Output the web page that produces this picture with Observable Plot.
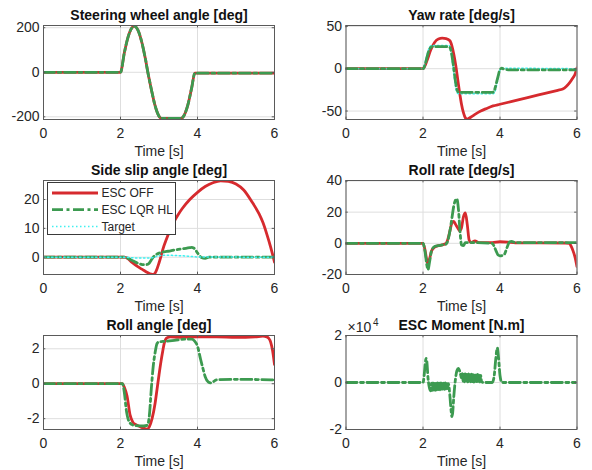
<!DOCTYPE html>
<html>
<head>
<meta charset="utf-8">
<script src="https://cdn.jsdelivr.net/npm/d3@7"></script>
<script src="https://cdn.jsdelivr.net/npm/@observablehq/plot@0.6"></script>
<style>
  html, body { margin: 0; padding: 0; background: #fff; }
  #fig { position: relative; width: 592px; height: 470px; background: #fff; font-family: "Liberation Sans", Arial, sans-serif; }
  #fig > .cell { position: absolute; }
</style>
</head>
<body>
<div id="fig"></div>
<script>
// ---------- Data ----------
const xTicks = [0, 2, 4, 6];

// Steering wheel angle [deg]
const steerT   = [0, 2.0, 2.1, 2.2, 2.3, 2.36, 2.45, 2.55, 2.65, 2.71, 2.8, 2.9, 3.0, 3.07, 3.57, 3.65, 3.75, 3.85, 3.93, 6];
const steerOff = [0, 0, 88, 160, 200, 207, 190, 137, 57, 0, -76, -151, -197, -207, -207, -194, -146, -69, -4, -4];
const steerLqr = [0, 0, 88, 160, 200, 207, 190, 137, 57, 0, -76, -151, -197, -207, -207, -194, -146, -69, -4, -4];
const steerTicks = [-200, 0, 200];

// Yaw rate [deg/s]
const yawOffT = [0, 2.0, 2.1, 2.2, 2.3, 2.4, 2.5, 2.6, 2.7, 2.75, 2.8, 2.85, 2.9, 2.95, 3.0, 3.05, 3.1, 3.15, 3.25, 3.35, 3.5, 3.65, 3.82, 4.0, 4.5, 5.0, 5.5, 5.63, 5.72, 5.81, 5.9, 5.94, 6.0];
const yawOff  = [0, 0, 9, 22, 31, 35, 36, 35.5, 33, 27, 17, 4, -12, -28, -42, -52, -58, -59.5, -57, -54, -50, -47, -44, -42, -36.5, -31, -25.5, -24, -21, -16.5, -10.5, -7.5, 1];
const yawLqrT = [0, 2.0, 2.05, 2.1, 2.15, 2.2, 2.25, 2.65, 2.7, 2.75, 2.8, 2.85, 2.9, 2.95, 3.8, 3.85, 3.9, 3.95, 4.0, 4.05, 4.1, 4.3, 6];
const yawLqr  = [0, 0, 4, 13, 21, 25, 26, 26, 25, 16, 0, -17, -27, -28, -28, -26, -18, -9, -1, 0.5, -0.5, -1.5, -1.5];
const yawTgtT = [0, 2.0, 2.04, 2.09, 2.14, 2.19, 2.24, 2.68, 2.73, 2.78, 2.83, 2.88, 2.93, 3.82, 3.87, 3.92, 3.97, 4.01, 4.06, 6];
const yawTgt  = [0, 0, 5, 14, 22, 26.5, 27.5, 27.5, 18, 1, -17, -28, -29.5, -29.5, -27, -18, -8, 0, 0.5, 0];
const yawTicks = [-50, 0, 50];

// Side slip angle [deg]
const slipOffT = [0, 2.1, 2.2, 2.3, 2.4, 2.5, 2.6, 2.7, 2.8, 2.85, 2.9, 2.95, 3.0, 3.05, 3.1, 3.2, 3.3, 3.4, 3.5, 3.6, 3.8, 4.0, 4.2, 4.4, 4.6, 4.8, 5.0, 5.2, 5.4, 5.6, 5.7, 5.8, 5.9, 6.0];
const slipOff  = [0, 0, -0.6, -1.8, -2.8, -3.7, -4.5, -5.3, -5.9, -6.0, -5.5, -4.0, -2.0, 0.2, 2.7, 6.5, 9.8, 12.5, 14.8, 16.8, 20, 22.5, 24.5, 25.8, 26.5, 26.3, 25.4, 23.3, 19.5, 15, 12, 8, 3.5, -1.7];
const slipLqrT = [0, 2.1, 2.2, 2.3, 2.4, 2.5, 2.6, 2.7, 2.75, 2.8, 2.85, 2.9, 2.95, 3.0, 3.1, 3.2, 3.3, 3.4, 3.5, 3.6, 3.7, 3.8, 3.85, 3.9, 3.95, 4.0, 4.05, 4.1, 4.2, 4.3, 6];
const slipLqr  = [0, 0, -0.4, -1.1, -1.8, -2.3, -2.6, -2.5, -2.0, -1.0, 0.0, 0.7, 1.1, 1.4, 1.8, 2.0, 2.2, 2.5, 2.7, 2.9, 3.1, 3.3, 3.4, 3.2, 2.5, 1.5, 0.6, -0.1, -0.4, 0, 0];
const slipTgtT = [0, 2.1, 2.3, 2.5, 2.7, 2.9, 3.0, 3.2, 3.4, 3.6, 3.8, 4.0, 6];
const slipTgt  = [0, 0, -0.2, -0.3, -0.3, 0.1, 0.5, 0.7, 0.6, 0.5, 0.3, 0.1, 0];
const slipTicks = [0, 10, 20];

// Roll rate [deg/s]
const rrOffT = [0, 2.0, 2.05, 2.1, 2.13, 2.17, 2.22, 2.3, 2.4, 2.5, 2.6, 2.65, 2.7, 2.75, 2.8, 2.85, 2.9, 2.95, 3.0, 3.05, 3.1, 3.15, 3.2, 3.25, 3.35, 3.45, 3.8, 4.0, 4.2, 4.4, 5.7, 5.8, 5.85, 5.9, 5.95, 6.0];
const rrOff  = [0, 0, -4, -11, -13, -10, -5, -2.5, -1.5, -1, 0, 3, 8, 13, 14, 12, 10, 8, 10, 17, 19.5, 12, 2, 0.5, 1.5, 0.5, 0.5, 1, 0.8, 0.3, 0.2, 0, -2, -5, -9, -15];
const rrLqrT = [0, 2.0, 2.05, 2.1, 2.13, 2.17, 2.22, 2.3, 2.4, 2.5, 2.6, 2.65, 2.7, 2.75, 2.8, 2.85, 2.88, 2.92, 2.96, 3.0, 3.05, 3.1, 3.2, 3.8, 3.85, 3.9, 3.95, 4.0, 4.1, 4.15, 4.2, 4.25, 4.3, 4.4, 6];
const rrLqr  = [0, 0, -5, -14, -17, -12, -5, -2, -1.5, -1, -0.5, 2, 8, 16, 24, 28, 28.5, 22, 8, -1, -1.5, 0.5, 0.5, 0, -2, -5, -7.5, -8, -7.5, -5, -1.5, 1, 1.2, 0.5, 0.5];
const rrTicks = [-20, 0, 20, 40];

// Roll angle [deg]
const raOffT = [0, 2.05, 2.1, 2.17, 2.25, 2.32, 2.4, 2.5, 2.6, 2.69, 2.75, 2.82, 2.9, 2.95, 3.0, 3.05, 3.1, 3.14, 3.2, 3.3, 3.5, 4.0, 4.5, 5.0, 5.5, 5.7, 5.8, 5.85, 5.9, 5.95, 6.0];
const raOff  = [0, 0, -0.2, -0.7, -1.8, -2.2, -2.35, -2.45, -2.55, -2.6, -2.45, -2.0, -1.1, -0.3, 0.5, 1.25, 1.9, 2.35, 2.62, 2.68, 2.65, 2.68, 2.68, 2.65, 2.68, 2.72, 2.68, 2.6, 2.38, 1.9, 1.1];
const raLqrT = [0, 2.05, 2.1, 2.15, 2.21, 2.3, 2.4, 2.6, 2.7, 2.75, 2.8, 2.85, 2.9, 2.95, 3.0, 3.1, 3.4, 3.7, 3.85, 3.92, 4.0, 4.08, 4.15, 4.2, 4.28, 4.35, 4.5, 5.0, 6];
const raLqr  = [0, 0, -0.5, -1.5, -2.1, -2.34, -2.4, -2.42, -2.38, -1.8, -0.3, 1.0, 1.8, 2.3, 2.4, 2.42, 2.48, 2.55, 2.55, 2.45, 2.15, 1.4, 0.8, 0.4, 0.1, 0.05, 0.22, 0.25, 0.22];
const raTicks = [-2, 0, 2];

// ESC Moment [N.m]
const mLqrT = [0, 2.0, 2.03, 2.06, 2.08, 2.1, 2.13, 2.17, 2.2,
  2.22, 2.24, 2.26, 2.28, 2.30, 2.32, 2.34, 2.36, 2.38, 2.40, 2.42, 2.44, 2.46, 2.48, 2.50, 2.52, 2.54, 2.56, 2.58, 2.60, 2.62, 2.64, 2.66,
  2.7, 2.73, 2.75, 2.77, 2.8, 2.84, 2.88, 2.92, 2.96, 3.0,
  3.02, 3.04, 3.06, 3.08, 3.10, 3.12, 3.14, 3.16, 3.18, 3.20, 3.22, 3.24, 3.26, 3.28, 3.30, 3.32, 3.34, 3.36, 3.38, 3.40, 3.42, 3.44, 3.46, 3.48, 3.50, 3.52,
  3.56, 3.8, 3.85, 3.89, 3.93, 3.96, 4.0, 4.05, 6];
const mLqr = [0, 0, 3000, 8500, 10300, 9000, 2000, -2500, -3500,
  -300, -3300, -200, -3200, -400, -3300, -300, -3100, -200, -3000, -300, -3100, -200, -2900, -400, -2800, -300, -2900, -200, -2700, -300, -2600, -500,
  -6000, -12000, -14500, -13000, -6000, 1000, 5000, 6000, 4500, 2000,
  3800, 500, 3600, 300, 3900, 400, 3500, 200, 3700, 500, 3400, 300, 3600, 400, 3300, 200, 3500, 500, 3200, 300, 3400, 400, 3100, 200, 3000, 500,
  0, 0, 3000, 10000, 14700, 11000, 3000, 0, 0];
const mTicks = [-20000, 0, 20000];

// Legend entries
const legendNames = ["ESC OFF", "ESC LQR HL", "Target"];

// ---------- Styles ----------
const RED = "#d62a2e", GREEN = "#3c9a50", CYAN = "#3ff0f0";
const styleOff = {stroke: RED, strokeWidth: 2.8};
const styleLqr = {stroke: GREEN, strokeWidth: 2.8, strokeDasharray: "11,3.5,3,3.5"};
const styleTgt = {stroke: CYAN, strokeWidth: 1.5, strokeDasharray: "1.5,2.5"};
const AX = "#5a5a5a";

const zip = (t, v) => t.map((x, i) => ({t: x, v: v[i]}));

function panel({title, yDomain, yTicks, fmt, series, left, extra = []}) {
  const ml = left ? 43 : 49.5;
  const mr = left ? 22 : 15.5;
  const [y0, y1] = yDomain;
  const tk = (y1 - y0) * 0.025;
  return Plot.plot({
    width: 296, height: 155,
    marginTop: 25, marginBottom: 36, marginLeft: ml, marginRight: mr,
    style: {fontFamily: "'Liberation Sans', Arial, sans-serif", fontSize: "14px", color: "#262626", background: "none", overflow: "visible"},
    x: {domain: [0, 6]},
    y: {domain: yDomain},
    marks: [
      Plot.gridX(xTicks, {stroke: "#dedede", strokeOpacity: 1}),
      Plot.gridY(yTicks, {stroke: "#dedede", strokeOpacity: 1}),
      Plot.axisX(xTicks, {tickSize: 0, tickPadding: 9, label: null, fontSize: 14}),
      Plot.axisY(yTicks, {tickSize: 0, tickPadding: 4, label: null, tickFormat: fmt || (d => String(d)), fontSize: 14}),
      ...series.map(([t, v, st]) => Plot.line(zip(t, v), {x: "t", y: "v", curve: "monotone-x", clip: true, ...st})),
      // small inward ticks, MATLAB style
      Plot.ruleY(yTicks, {x1: 0, x2: 0.06, stroke: AX}),
      Plot.ruleY(yTicks, {x1: 5.94, x2: 6, stroke: AX}),
      Plot.ruleX(xTicks, {y1: y0, y2: y0 + tk, stroke: AX}),
      Plot.ruleX(xTicks, {y1: y1 - tk, y2: y1, stroke: AX}),
      Plot.frame({stroke: AX, strokeWidth: 1}),
      Plot.text([title], {frameAnchor: "top", lineAnchor: "middle", dy: -9.5, fontWeight: "bold", fontSize: 14, fill: "#111"}),
      Plot.text(["Time [s]"], {frameAnchor: "bottom", lineAnchor: "middle", dy: 32, fontSize: 14, fill: "#262626"}),
      ...extra
    ]
  });
}

const fig = document.getElementById("fig");
function place(node, x, y) {
  const d = document.createElement("div");
  d.className = "cell";
  d.style.left = x + "px";
  d.style.top = y + "px";
  d.appendChild(node);
  fig.appendChild(d);
}

place(panel({title: "Steering wheel angle [deg]", yDomain: [-212, 210], yTicks: steerTicks, left: true,
  series: [[steerT, steerOff, styleOff], [steerT, steerLqr, styleLqr]]}), 0, 0);

place(panel({title: "Yaw rate [deg/s]", yDomain: [-60, 51], yTicks: yawTicks, left: false,
  series: [[yawOffT, yawOff, styleOff], [yawTgtT, yawTgt, styleTgt], [yawLqrT, yawLqr, styleLqr]]}), 296, 0);

place(panel({title: "Side slip angle [deg]", yDomain: [-6, 26.6], yTicks: slipTicks, left: true,
  series: [[slipOffT, slipOff, styleOff], [slipLqrT, slipLqr, styleLqr], [slipTgtT, slipTgt, styleTgt]]}), 0, 155);

place(panel({title: "Roll rate [deg/s]", yDomain: [-20, 40.3], yTicks: rrTicks, left: false,
  series: [[rrOffT, rrOff, styleOff], [rrLqrT, rrLqr, styleLqr]]}), 296, 155);

place(panel({title: "Roll angle [deg]", yDomain: [-2.62, 2.76], yTicks: raTicks, left: true,
  series: [[raOffT, raOff, styleOff], [raLqrT, raLqr, styleLqr]]}), 0, 310);

place(panel({title: "ESC Moment [N.m]", yDomain: [-20000, 20000], yTicks: mTicks, left: false,
  fmt: d => String(d / 1e4),
  series: [[mLqrT, mLqr, {...styleLqr}]],
  extra: [
    Plot.text(["×10"], {frameAnchor: "top-left", lineAnchor: "middle", dx: 1.5, dy: -7.5, textAnchor: "start", fontSize: 14, fill: "#262626"}),
    Plot.text(["4"], {frameAnchor: "top-left", lineAnchor: "middle", dx: 27, dy: -12.5, textAnchor: "start", fontSize: 10, fill: "#262626"})
  ]}), 296, 310);

// Legend for the side slip panel
(function legend() {
  const w = 129, h = 53;
  const svg = d3.create("svg").attr("width", w).attr("height", h)
    .style("position", "absolute").style("left", "46.5px").style("top", "181.5px");
  svg.append("rect").attr("x", 0.5).attr("y", 0.5).attr("width", w - 1).attr("height", h - 1)
    .attr("fill", "white").attr("stroke", "#3a3a3a").attr("stroke-width", 1);
  const styles = [styleOff, styleLqr, styleTgt];
  legendNames.forEach((name, i) => {
    const y = 11 + i * 16.7;
    const st = styles[i];
    svg.append("line").attr("x1", 5).attr("x2", 51).attr("y1", y).attr("y2", y)
      .attr("stroke", st.stroke).attr("stroke-width", st.strokeWidth)
      .attr("stroke-dasharray", st.strokeDasharray || null);
    svg.append("text").attr("x", 54.5).attr("y", y).attr("dy", "0.35em")
      .attr("font-family", "'Liberation Sans', Arial, sans-serif").attr("font-size", 12)
      .attr("fill", "#262626").text(name);
  });
  fig.appendChild(svg.node());
})();
</script>
</body>
</html>
